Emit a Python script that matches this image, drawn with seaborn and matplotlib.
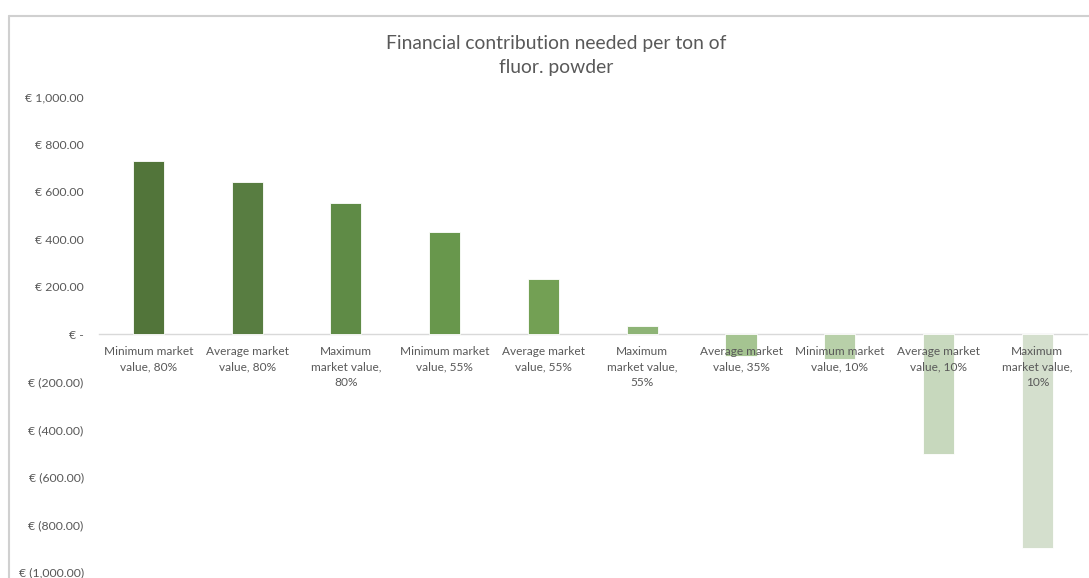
import matplotlib
matplotlib.use("Agg")
import matplotlib.pyplot as plt
from matplotlib.lines import Line2D
from matplotlib.ticker import FuncFormatter
import seaborn as sns
import pandas as pd

# Chart data.
categories = [
    "Minimum market\nvalue, 80%",
    "Average market\nvalue, 80%",
    "Maximum\nmarket value,\n80%",
    "Minimum market\nvalue, 55%",
    "Average market\nvalue, 55%",
    "Maximum\nmarket value,\n55%",
    "Average market\nvalue, 35%",
    "Minimum market\nvalue, 10%",
    "Average market\nvalue, 10%",
    "Maximum\nmarket value,\n10%",
]
contribution = [732, 641, 553, 430, 233, 35, -92, -105, -505, -900]
bar_colors = [
    "#507F30", "#558737", "#5C963A", "#65A43F", "#70AD47",
    "#8BBE6C", "#A3CC89", "#B6D6A3", "#C6DCB9", "#D4E2CA",
]
title = "Financial contribution needed per ton of\nfluor. powder"

df = pd.DataFrame({"category": categories, "value": contribution})

sns.set_style("white")
plt.rcParams["font.family"] = ["Lato", "DejaVu Sans"]

fig = plt.figure(figsize=(10.89, 5.78), dpi=100)
ax = fig.add_axes([0.0909, 0.0104, 0.907, 0.8218])

sns.barplot(
    data=df, x="category", y="value", hue="category",
    palette=bar_colors, legend=False, width=0.315,
    edgecolor="white", linewidth=0.6, ax=ax,
)

ax.set_ylim(-1000, 1000)
ax.set_xlim(-0.5, len(categories) - 0.5)
ax.set_yticks(range(-1000, 1001, 200))


def euro(v, pos):
    if v == 0:
        return "€ -"
    if v < 0:
        return f"€ ({abs(v):,.2f})"
    return f"€ {v:,.2f}"


ax.yaxis.set_major_formatter(FuncFormatter(euro))
ax.set_xlabel("")
ax.set_ylabel("")

for s in ["top", "right", "left"]:
    ax.spines[s].set_visible(False)
ax.spines["bottom"].set_position(("data", 0))
ax.spines["bottom"].set_color("#D9D9D9")
ax.spines["bottom"].set_linewidth(1.0)
ax.spines["bottom"].set_zorder(0.5)

# category labels sit on top of the bars, as in the original
ax.xaxis.set_zorder(3)
ax.tick_params(axis="x", length=0, pad=8, labelsize=8.6, colors="#595959")
ax.tick_params(axis="y", length=0, pad=11, labelsize=8.8, colors="#595959")
for lbl in ax.get_xticklabels():
    lbl.set_linespacing(1.5)

fig.suptitle(title, x=0.511, y=0.94, fontsize=13.9, color="#595959",
             linespacing=1.55, va="top")

# chart frame (gray lines at top and left)
fig.add_artist(Line2D([0.0083, 1.0], [0.972, 0.972], color="#D0D0D0", lw=1.5,
                      transform=fig.transFigure))
fig.add_artist(Line2D([0.0083, 0.0083], [0.0, 0.972], color="#D0D0D0", lw=1.5,
                      transform=fig.transFigure))

plt.savefig("out.png", dpi=100)
